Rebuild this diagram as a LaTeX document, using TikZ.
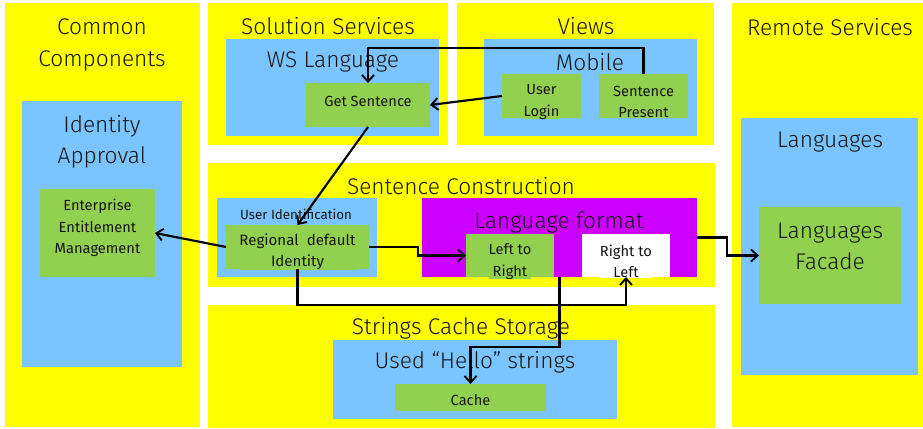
\documentclass[tikz,border=0pt]{standalone}
\usepackage{fontspec}
\setmainfont{Fira Sans Light}
\newfontfamily\regfont{Fira Sans}
\usetikzlibrary{fit,arrows.meta,calc}
\definecolor{ylw}{HTML}{FFFF00}
\definecolor{blu}{HTML}{7AC5FF}
\definecolor{grn}{HTML}{92D050}
\definecolor{mag}{HTML}{CC00FF}
\definecolor{txt}{HTML}{151515}
\newcommand\hdfont{\fontsize{17}{23.5}\selectfont}
\newcommand\smfont{\regfont\fontsize{11}{16}\selectfont}
\newcommand\mdfont{\regfont\fontsize{11.3}{16}\selectfont}
\newcommand\uifont{\regfont\fontsize{10}{14}\selectfont}
\begin{document}
\begin{tikzpicture}[x=0.75pt,y=-0.75pt,
  area/.style={inner sep=0pt, outer sep=0pt, draw=none},
  ybox/.style={area, fill=ylw},
  bbox/.style={area, fill=blu},
  mbox/.style={area, fill=mag},
  gbox/.style={area, fill=grn, align=center, font=\smfont, text=txt},
  wbox/.style={area, fill=white, align=center, font=\smfont, text=txt},
  hd/.style={inner sep=0pt, align=center, font=\hdfont, text=txt},
  arr/.style={draw=black, line width=1.6pt, -{Straight Barb[length=5pt,width=9pt,line width=1.4pt]}},
]
\useasboundingbox (0,0) rectangle (923,428);
% yellow areas
\node[ybox, fit={(5,3) (200,427)}] (cc) {};
\node[ybox, fit={(208,3) (448,145)}] (ss) {};
\node[ybox, fit={(457,3) (714,145)}] (vw) {};
\node[ybox, fit={(208,163) (715,287)}] (sc) {};
\node[ybox, fit={(208,305) (715,428)}] (scs) {};
\node[ybox, fit={(732,3) (923,427)}] (rs) {};
% blue areas
\node[bbox, fit={(22,101) (182,367)}] (ia) {};
\node[bbox, fit={(226,39) (439,136)}] (wsl) {};
\node[bbox, fit={(484,39) (697,136)}] (mob) {};
\node[bbox, fit={(217,198) (377,277)}] (uid) {};
\node[bbox, fit={(333,340) (617,419)}] (uhs) {};
\node[bbox, fit={(741,118) (918,375)}] (lang) {};
\node[mbox, fit={(422,198) (697,277)}] (lf) {};
% headings
\node[hd] (t1) at (102,45) {Common\\Components};
\node[hd] (t2) at (328,26) {Solution Services};
\node[hd] (t3) at (586,26) {Views};
\node[hd] (t4) at (830,27) {Remote Services};
\node[hd] (t5) at (102,142) {Identity\\Approval};
\node[hd] (t6) at (333,62) {WS Language};
\node[hd] (t7) at (590,62) {Mobile};
\node[hd] (t8) at (461,186) {Sentence Construction};
\node[hd, font=\uifont] (t9) at (296,214) {User Identification};
\node[hd] (t10) at (559,222) {Language format};
\node[hd] (t11) at (461,328) {Strings Cache Storage};
\node[hd] (t12) at (475,362) {Used “Hello” strings};
\node[hd] (t13) at (830,142) {Languages};
% green boxes
\node[gbox, fit={(40,189) (155,277)}] (eem) {};
\node[gbox] at ($(eem.center)+(0,-5)$) {Enterprise\\Entitlement\\Management};
\node[gbox, fit={(306,83) (430,127)}] (gs) {};
\node[gbox] at ($(gs.center)+(0,-4)$) {Get Sentence};
\node[gbox, fit={(502,74) (581,118)}] (ul) {};
\node[gbox] at ($(ul.center)+(0,6)$) {User\\Login};
\node[gbox, fit={(599,74) (688,118)}] (sp) {};
\node[gbox] at ($(sp.center)+(0,6)$) {Sentence\\Present};
\node[gbox, fit={(226,225) (369,269)}] (rd) {};
\node[gbox, font=\mdfont] at ($(rd.center)+(0,5)$) {Regional\ \ default\\Identity};
\node[gbox, fit={(466,234) (554,277)}] (ltr) {};
\node[gbox] at ($(ltr.center)+(0,6)$) {Left to\\Right};
\node[wbox, fit={(582,234) (670,277)}] (rtl) {};
\node[wbox] at ($(rtl.center)+(0,6)$) {Right to\\Left};
\node[gbox, fit={(395,384) (546,411)}] (cache) {};
\node[gbox] at ($(cache.center)+(0,3)$) {Cache};
\node[gbox, fit={(759,207) (901,304)}] (lfac) {};
\node[gbox, font=\hdfont] at ($(lfac.center)+(0,-9)$) {Languages\\Facade};
% connectors
\draw[arr] (sp.north) -- ++(0,-26) -| (gs.north);
\draw[arr] (ul.west) -- (gs.east);
\draw[arr] (gs.south) -- (rd.north);
\draw[arr] (rd.west) -- (eem.east);
\draw[arr] (rd.east) -- ++(49,0) |- (ltr.west);
\draw[arr] (rd.south) -- ++(0,36) -| (rtl.south);
\draw[arr] (lf.south) -- ++(0,70) -| (cache.north);
\draw[arr] (lf.east) -- ++(30,0) |- (lfac.west);
\end{tikzpicture}
\end{document}
